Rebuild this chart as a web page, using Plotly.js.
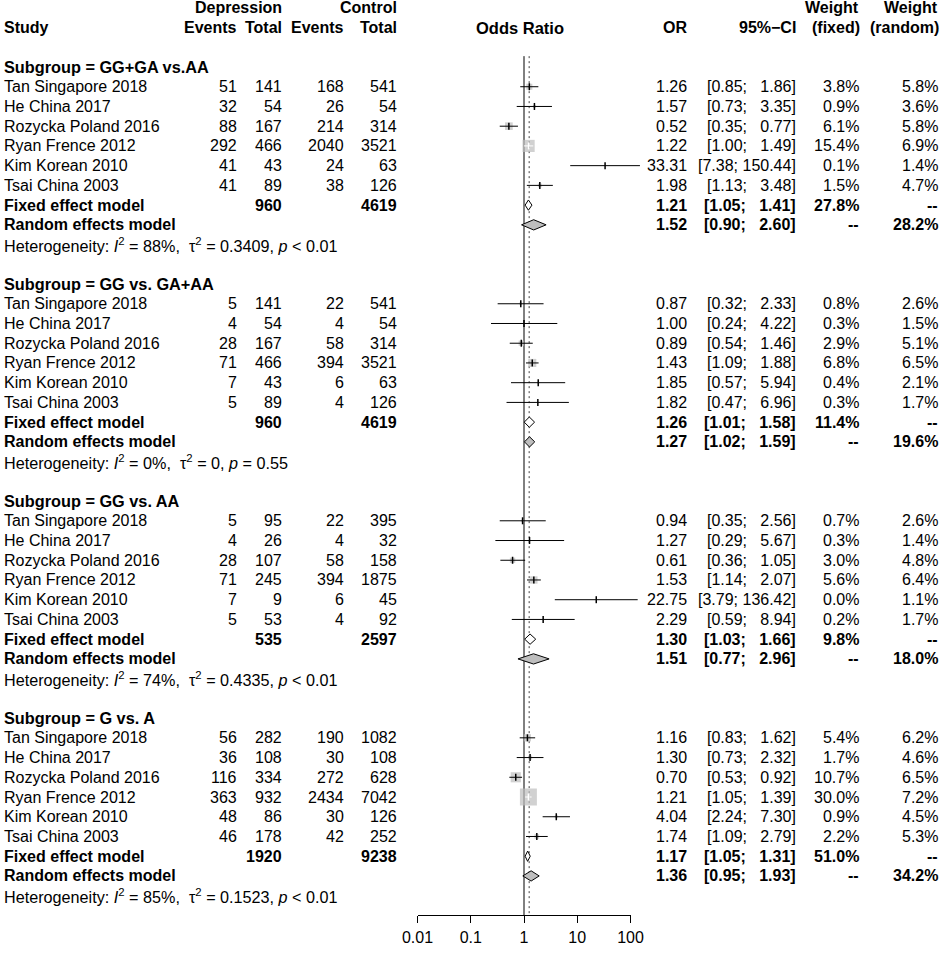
<!DOCTYPE html>
<html><head><meta charset="utf-8">
<script src="https://cdn.plot.ly/plotly-3.0.1.min.js"></script>
<style>html,body{margin:0;padding:0;background:#fff}#chart{width:941px;height:953px}</style>
</head><body><div id="chart"></div>
<script>
// ---------------- DATA ----------------
const subgroups = ["GG+GA vs.AA", "GG vs. GA+AA", "GG vs. AA", "G vs. A"];
const studies = ["Tan Singapore 2018", "He China 2017", "Rozycka Poland 2016", "Ryan Frence 2012", "Kim Korean 2010", "Tsai China 2003"];
const depEvents = [[51,32,88,292,41,41],[5,4,28,71,7,5],[5,4,28,71,7,5],[56,36,116,363,48,46]];
const depTotal = [[141,54,167,466,43,89],[141,54,167,466,43,89],[95,26,107,245,9,53],[282,108,334,932,86,178]];
const ctrlEvents = [[168,26,214,2040,24,38],[22,4,58,394,6,4],[22,4,58,394,6,4],[190,30,272,2434,30,42]];
const ctrlTotal = [[541,54,314,3521,63,126],[541,54,314,3521,63,126],[395,32,158,1875,45,92],[1082,108,628,7042,126,252]];
const orVal = [[1.26,1.57,0.52,1.22,33.31,1.98],[0.87,1.00,0.89,1.43,1.85,1.82],[0.94,1.27,0.61,1.53,22.75,2.29],[1.16,1.30,0.70,1.21,4.04,1.74]];
const ciLow = [[0.85,0.73,0.35,1.00,7.38,1.13],[0.32,0.24,0.54,1.09,0.57,0.47],[0.35,0.29,0.36,1.14,3.79,0.59],[0.83,0.73,0.53,1.05,2.24,1.09]];
const ciHigh = [[1.86,3.35,0.77,1.49,150.44,3.48],[2.33,4.22,1.46,1.88,5.94,6.96],[2.56,5.67,1.05,2.07,136.42,8.94],[1.62,2.32,0.92,1.39,7.30,2.79]];
const wFixed = [[3.8,0.9,6.1,15.4,0.1,1.5],[0.8,0.3,2.9,6.8,0.4,0.3],[0.7,0.3,3.0,5.6,0.0,0.2],[5.4,1.7,10.7,30.0,0.9,2.2]];
const wRandom = [[5.8,3.6,5.8,6.9,1.4,4.7],[2.6,1.5,5.1,6.5,2.1,1.7],[2.6,1.4,4.8,6.4,1.1,1.7],[6.2,4.6,6.5,7.2,4.5,5.3]];
const fixedDepTotal = [960,960,535,1920];
const fixedCtrlTotal = [4619,4619,2597,9238];
const fixedOR = [1.21,1.26,1.30,1.17];
const fixedLow = [1.05,1.01,1.03,1.05];
const fixedHigh = [1.41,1.58,1.66,1.31];
const fixedW = [27.8,11.4,9.8,51.0];
const randomOR = [1.52,1.27,1.51,1.36];
const randomLow = [0.90,1.02,0.77,0.95];
const randomHigh = [2.60,1.59,2.96,1.93];
const randomW = [28.2,19.6,18.0,34.2];
const hetI2 = ["88%","0%","74%","85%"];
const hetTau2 = ["0.3409","0","0.4335","0.1523"];
const hetP = ["&lt; 0.01","= 0.55","&lt; 0.01","&lt; 0.01"];
const refOR = 1.25;
const axisTicks = [0.01, 0.1, 1, 10, 100];
const axisTickLabels = ["0.01", "0.1", "1", "10", "100"];

// ---------------- LAYOUT CONSTANTS ----------------
const W = 941, H = 953;
const rowPx = 19.73, row0Px = 67;
const axLeft = 417.5, axRight = 630.5;
const pxDec = (axRight - axLeft) / 4;
const FONT = "Liberation Sans, Arial, Helvetica, sans-serif";
const FS = 16, FSB = 16, FSH = 16.2;
const yTop = -row0Px / rowPx, yBot = (H - row0Px) / rowPx;
const axisRow = 43;
const gray = "#BEBEBE";

const cols = {study: 3, depE: 238, depT: 283, ctlE: 345, ctlT: 398, or: 688, ci: 797, wf: 860, wr: 939};

const ann = [];
function txt(t, xpx, r, anchor, bold, size) {
  ann.push({xref: "paper", yref: "y", x: xpx / W, y: r, xanchor: anchor || "right", yanchor: "middle",
    text: bold ? "<b>" + t + "</b>" : t, showarrow: false, borderpad: 0,
    font: {family: FONT, size: size || (bold ? FSB : FS), color: "#000"}});
}
const maxUp = Math.max(...ciHigh.flat().map(v => v.toFixed(2).length), ...fixedHigh.map(v => v.toFixed(2).length));
function ciText(lo, hi) {
  const u = hi.toFixed(2);
  return "[" + lo.toFixed(2) + ";" + "\u00A0".repeat(1 + maxUp - u.length) + u + "]";
}

// headers
txt("Depression", cols.depT, -3, "right", true);
txt("Control", cols.ctlT, -3, "right", true);
txt("Weight", cols.wf, -3, "right", true);
txt("Weight", cols.wr, -3, "right", true);
txt("Study", cols.study, -2, "left", true);
txt("Events", cols.depE, -2, "right", true);
txt("Total", cols.depT, -2, "right", true);
txt("Events", cols.ctlE, -2, "right", true);
txt("Total", cols.ctlT, -2, "right", true);
txt("Odds Ratio", (axLeft + axRight) / 2 - 4, -2, "center", true, 16.5);
txt("OR", cols.or, -2, "right", true);
txt("95%\u2212CI", cols.ci, -2, "right", true);
txt("(fixed)", cols.wf + 1, -2, "right", true);
txt("(random)", cols.wr + 1, -2, "right", true);

const ciX = [], ciY = [], ciWX = [], ciWY = [];
const sqX = [], sqY = [], sqS = [];
const tkX = [], tkY = [], tkC = [];
const fdX = [], fdY = [], rdX = [], rdY = [];
const dh = 0.26;

subgroups.forEach((sg, g) => {
  const base = g * 11;
  txt("Subgroup = " + sg, cols.study, base, "left", true, 16.3);
  studies.forEach((s, i) => {
    const r = base + 1 + i;
    txt(s, cols.study, r, "left");
    txt(String(depEvents[g][i]), cols.depE, r);
    txt(String(depTotal[g][i]), cols.depT, r);
    txt(String(ctrlEvents[g][i]), cols.ctlE, r);
    txt(String(ctrlTotal[g][i]), cols.ctlT, r);
    txt(orVal[g][i].toFixed(2), cols.or, r);
    txt(ciText(ciLow[g][i], ciHigh[g][i]), cols.ci, r);
    txt(wFixed[g][i].toFixed(1) + "%", cols.wf, r);
    txt(wRandom[g][i].toFixed(1) + "%", cols.wr, r);
    const size = 3.1 * Math.sqrt(wFixed[g][i]);
    const ciPx = (Math.log10(ciHigh[g][i]) - Math.log10(ciLow[g][i])) * pxDec;
    const inside = ciPx < size;
    if (inside) { ciWX.push(ciLow[g][i], ciHigh[g][i], null); ciWY.push(r, r, null); }
    else { ciX.push(ciLow[g][i], ciHigh[g][i], null); ciY.push(r, r, null); }
    sqX.push(orVal[g][i]); sqY.push(r); sqS.push(size);
    tkX.push(orVal[g][i]); tkY.push(r); tkC.push(inside ? "#fff" : "#000");
  });
  const rf = base + 7, rr = base + 8;
  txt("Fixed effect model", cols.study, rf, "left", true);
  txt(String(fixedDepTotal[g]), cols.depT, rf, "right", true);
  txt(String(fixedCtrlTotal[g]), cols.ctlT, rf, "right", true);
  txt(fixedOR[g].toFixed(2), cols.or, rf, "right", true);
  txt(ciText(fixedLow[g], fixedHigh[g]), cols.ci, rf, "right", true);
  txt(fixedW[g].toFixed(1) + "%", cols.wf, rf, "right", true);
  txt("--", cols.wr, rf, "right", true);
  txt("Random effects model", cols.study, rr, "left", true);
  txt(randomOR[g].toFixed(2), cols.or, rr, "right", true);
  txt(ciText(randomLow[g], randomHigh[g]), cols.ci, rr, "right", true);
  txt("--", cols.wf, rr, "right", true);
  txt(randomW[g].toFixed(1) + "%", cols.wr, rr, "right", true);
  txt("Heterogeneity: <i>I</i><sup>2</sup> = " + hetI2[g] + ",\u00A0\u00A0\u03C4<sup>2</sup> = " + hetTau2[g] + ", <i>p</i> " + hetP[g], cols.study, base + 9, "left", false, FSH);
  fdX.push(fixedLow[g], fixedOR[g], fixedHigh[g], fixedOR[g], fixedLow[g], null);
  fdY.push(rf, rf - dh, rf, rf + dh, rf, null);
  rdX.push(randomLow[g], randomOR[g], randomHigh[g], randomOR[g], randomLow[g], null);
  rdY.push(rr, rr - dh, rr, rr + dh, rr, null);
});

const traces = [
  {x: [1, 1], y: [-0.55, axisRow], mode: "lines", line: {color: "#000", width: 1}, hoverinfo: "skip"},
  {x: [refOR, refOR], y: [-0.55, axisRow], mode: "lines", line: {color: "#444", width: 1, dash: "2px,3px"}, hoverinfo: "skip"},
  {x: sqX, y: sqY, mode: "markers", marker: {symbol: "square", size: sqS, color: gray, line: {width: 0}}, hoverinfo: "skip"},
  {x: ciX, y: ciY, mode: "lines", line: {color: "#000", width: 1}, connectgaps: false, hoverinfo: "skip"},
  {x: ciWX, y: ciWY, mode: "lines", line: {color: "#fff", width: 1}, connectgaps: false, hoverinfo: "skip"},
  {x: tkX, y: tkY, mode: "markers", marker: {symbol: "line-ns", size: 5, line: {color: tkC, width: 1.5}}, hoverinfo: "skip"},
  {x: fdX, y: fdY, mode: "lines", fill: "toself", fillcolor: "#fff", line: {color: "#000", width: 1}, hoverinfo: "skip"},
  {x: rdX, y: rdY, mode: "lines", fill: "toself", fillcolor: gray, line: {color: "#000", width: 1}, hoverinfo: "skip"},
  // invisible trace to activate the visible tick axis
  {x: [1], y: [axisRow], xaxis: "x2", yaxis: "y", mode: "markers", marker: {opacity: 0}, hoverinfo: "skip"}
];
traces.forEach(t => { t.showlegend = false; t.cliponaxis = false; });

const layout = {
  width: W, height: H, margin: {l: 0, r: 0, t: 0, b: 0},
  paper_bgcolor: "#fff", plot_bgcolor: "rgba(0,0,0,0)",
  showlegend: false, hovermode: false,
  font: {family: FONT, size: FS, color: "#000"},
  xaxis: {type: "log", domain: [0, 1], range: [-2 - axLeft / pxDec, 2 + (W - axRight) / pxDec], visible: false, fixedrange: true},
  xaxis2: {type: "log", domain: [axLeft / W, axRight / W], range: [-2, 2], anchor: "free", position: 1 - (row0Px + axisRow * rowPx) / H,
    showline: true, linecolor: "#000", linewidth: 1, ticks: "outside", ticklen: 7, tickwidth: 1, tickcolor: "#000",
    tickmode: "array", tickvals: axisTicks, ticktext: axisTickLabels, showgrid: false, zeroline: false,
    tickfont: {family: FONT, size: 16, color: "#000"}, fixedrange: true},
  yaxis: {domain: [0, 1], range: [yBot, yTop], visible: false, fixedrange: true},
  annotations: ann
};
Plotly.newPlot("chart", traces, layout, {displayModeBar: false, staticPlot: true});
</script></body></html>
